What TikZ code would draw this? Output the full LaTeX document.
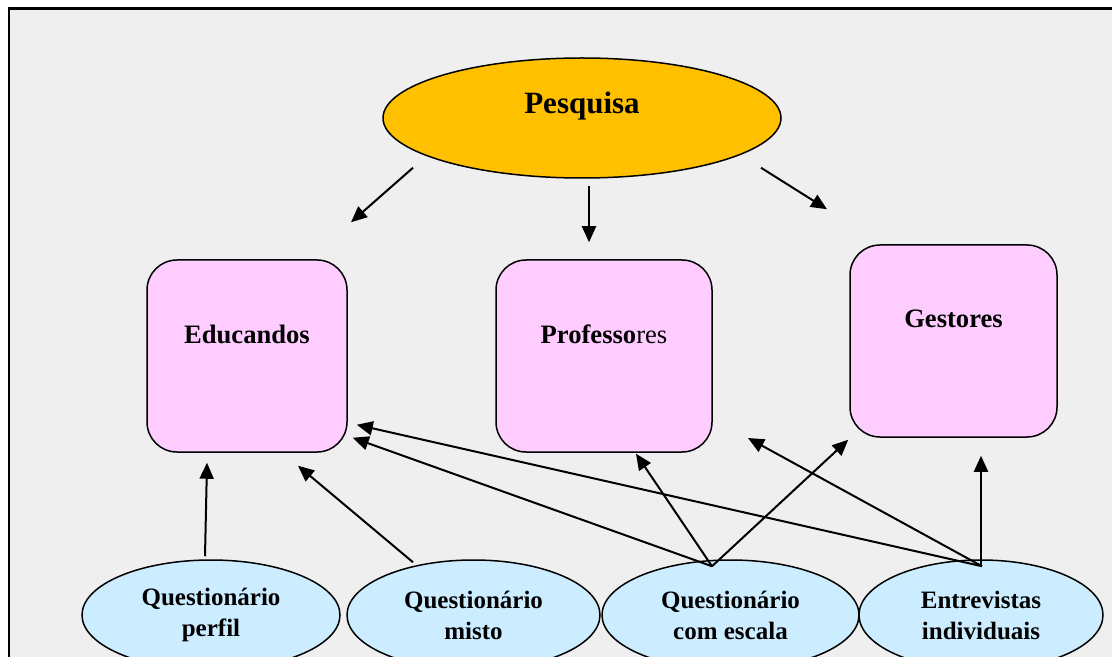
\documentclass[tikz,border=0pt]{standalone}
\usepackage{fontspec}
\setmainfont{Liberation Serif}
\definecolor{pqgold}{RGB}{255,192,0}
\definecolor{pqpink}{RGB}{255,204,255}
\definecolor{pqblue}{RGB}{204,236,255}
\definecolor{pqback}{RGB}{239,239,239}
\usetikzlibrary{arrows.meta,positioning,shapes.geometric,calc}

\begin{document}
\begin{tikzpicture}[x=0.5pt, y=-0.5pt,
    topo/.style={ellipse, draw=black, fill=pqgold, line width=0.75pt,
                minimum width=199pt, minimum height=60pt, inner sep=0pt},
    topotxt/.style={yshift=6pt, inner sep=0pt, font=\fontsize{15.5}{18}\selectfont\bfseries},
    grp/.style={rectangle, rounded corners=15pt, draw=black, fill=pqpink, line width=0.75pt,
                minimum height=96pt, inner sep=0pt},
    grptxt/.style={yshift=11pt, inner sep=0pt, font=\fontsize{13.3}{16}\selectfont},
    inst/.style={ellipse, draw=black, fill=pqblue, line width=0.75pt,
                minimum height=55pt, inner sep=0pt, align=center,
                font=\fontsize{12.5}{15.5}\selectfont\bfseries},
    seta/.style={line width=1pt, -{Triangle[length=8pt,width=7pt]}}
  ]
    % Frame
    \clip (0,0) rectangle (1112,657);
    \fill[white] (0,0) rectangle (1112,657);
    \fill[pqback] (9,9) rectangle (1112,657);
    \draw[line width=1.5pt] (8,9) -- (1112,9);
    \draw[line width=1pt] (9,9) -- (9,657);

    % Top
    \node[topo, label={[topotxt]center:Pesquisa}] (pesq) at (582,118) {};

    % Groups
    \node[grp, minimum width=100pt,
          label={[grptxt]center:\textbf{Educandos}}]    (edu)  at (247,356) {};
    \node[grp, minimum width=108pt,
          label={[grptxt]center:\textbf{Professo}res}]  (prof) at (604,356) {};
    \node[grp, minimum width=103.5pt,
          label={[grptxt]center:\textbf{Gestores}}]     (gest) at (953.5,341) {};

    % Instruments
    \node[inst, minimum width=129pt]   (perf) at (211,615)   {Questionário\\perfil};
    \node[inst, minimum width=126.5pt] (mist) at (473.5,615) {Questionário\\misto};
    \node[inst, minimum width=128.5pt] (esc)  at (730.5,615) {Questionário\\com escala};
    \node[inst, minimum width=122pt]   (entr) at (981,615)   {Entrevistas\\individuais};

    \coordinate (vazio) at (748,438);

    % Pesquisa -> groups
    \draw[seta] ($(pesq.south)+(-169,-11)$) -- ($(edu.north)+(104,-37)$);
    \draw[seta] ($(pesq.south)+(7,7)$)      -- ($(prof.north)+(-15,-17)$);
    \draw[seta] ($(pesq.south)+(179,-11)$)  -- ($(gest.north)+(-126.5,-35)$);

    % Instruments -> groups
    \draw[seta] ($(perf.north)+(-6,-3)$)    -- ($(edu.south)+(-40,10)$);
    \draw[seta] ($(mist.north)+(-60.5,3)$)  -- ($(edu.south)+(51,13)$);
    \draw[seta] ($(esc.north)+(-18.5,7)$)   -- ($(edu.south east)+(5,-15)$);
    \draw[seta] ($(esc.north)+(-18.5,7)$)   -- ($(prof.south)+(32,1)$);
    \draw[seta] ($(esc.north)+(-18.5,7)$)   -- ($(gest.south west)+(-1,2)$);
    \draw[seta] ($(entr.north)+(1,7)$)      -- ($(edu.south east)+(9,-28)$);
    \draw[seta] ($(entr.north)+(1,7)$)      -- (vazio);
    \draw[seta] ($(entr.north)+(0,7)$)      -- ($(gest.south)+(27.5,18)$);
  \end{tikzpicture}
\end{document}
